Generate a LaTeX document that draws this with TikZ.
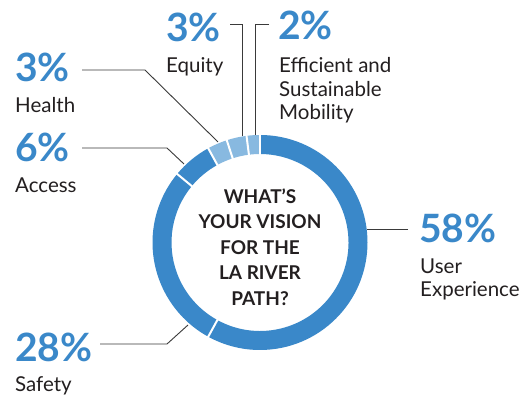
\documentclass[tikz,border=0pt]{standalone}
\usepackage{fontspec}
\setmainfont{Lato}
\usetikzlibrary{calc}
\definecolor{ringdark}{HTML}{3A88C9}
\definecolor{ringlight}{HTML}{88B9E0}
\definecolor{pctblue}{HTML}{3A88C9}
\definecolor{txt}{HTML}{231F20}
\definecolor{lead}{HTML}{3A3A3A}
\begin{document}
\begin{tikzpicture}[x=1pt,y=1pt,
  pct/.style={font=\fontsize{39}{39}\selectfont\bfseries, text=pctblue, inner sep=0pt, anchor=base west},
  lbl/.style={font=\fontsize{20.5}{23.5}\selectfont, text=txt, inner sep=0pt, anchor=base west, align=left},
  leader/.style={draw=lead, line width=0.9pt},
  gap/.style={draw=white, line width=2pt}]
\useasboundingbox (0,0) rectangle (530,398);
\fill[white] (0,0) rectangle (530,398);
\coordinate (C) at (260,155.5);
\def\Ro{107.5}\def\Ri{88.5}
% segments (start angle, end angle clockwise)
\foreach \a/\b/\c in {90/-118.8/ringdark, -118.8/-219.6/ringdark, 140.4/118.8/ringdark, 118.8/108/ringlight, 108/97.2/ringlight, 97.2/90/ringlight}{
  \fill[\c] ($(C)+(\a:\Ro)$) arc[start angle=\a, end angle=\b, radius=\Ro] -- ($(C)+(\b:\Ri)$) arc[start angle=\b, end angle=\a, radius=\Ri] -- cycle;
}
\foreach \a in {90,-118.8,140.4,118.8,108,97.2}{
  \draw[gap] ($(C)+(\a:\Ri-1)$) -- ($(C)+(\a:\Ro+1)$);
}
% center text
\node[font=\fontsize{19}{25.5}\selectfont\bfseries, text=txt, align=center, inner sep=0pt] (title) at (260,151) {WHAT’S\\YOUR VISION\\FOR THE\\LA RIVER\\PATH?};
% labels
\node[pct] (pEq) at (166,356) {3\%};
\node[lbl] (tEq) at (166,325) {Equity};
\node[pct] (pEf) at (278,358) {2\%};
\node[lbl] (tEf) at (279,278) {Efficient and\\Sustainable\\Mobility};
\node[pct] (pHe) at (15,316) {3\%};
\node[lbl] (tHe) at (15,285) {Health};
\node[pct] (pAc) at (15,236) {6\%};
\node[lbl] (tAc) at (15,205) {Access};
\node[pct] (pUx) at (419,155) {58\%};
\node[lbl] (tUx) at (420,101) {User\\Experience};
\node[pct] (pSa) at (15,36) {28\%};
\node[lbl] (tSa) at (15,6) {Safety};
% leader coordinates
\coordinate (eq0) at (230,374); \coordinate (eq1) at (242,374); \coordinate (eq2) at (242,261.5);
\coordinate (ef0) at (269,374); \coordinate (ef1) at (255,374); \coordinate (ef2) at (255,262.9);
\coordinate (he0) at (82,328); \coordinate (he1) at (145,328); \coordinate (he2) at (218,256);
\coordinate (ac0) at (82,250); \coordinate (ac1) at (167,250); \coordinate (ac2) at (184,234);
\coordinate (ux0) at (408,169); \coordinate (ux2) at (366.6,169);
\coordinate (sa0) at (100,54); \coordinate (sa1) at (167,54); \coordinate (sa2) at (188,73);
\draw[leader] (eq0) -- (eq1) -- (eq2);
\draw[leader] (ef0) -- (ef1) -- (ef2);
\draw[leader] (he0) -- (he1) -- (he2);
\draw[leader] (ac0) -- (ac1) -- (ac2);
\draw[leader] (ux0) -- (ux2);
\draw[leader] (sa0) -- (sa1) -- (sa2);
\end{tikzpicture}
\end{document}
